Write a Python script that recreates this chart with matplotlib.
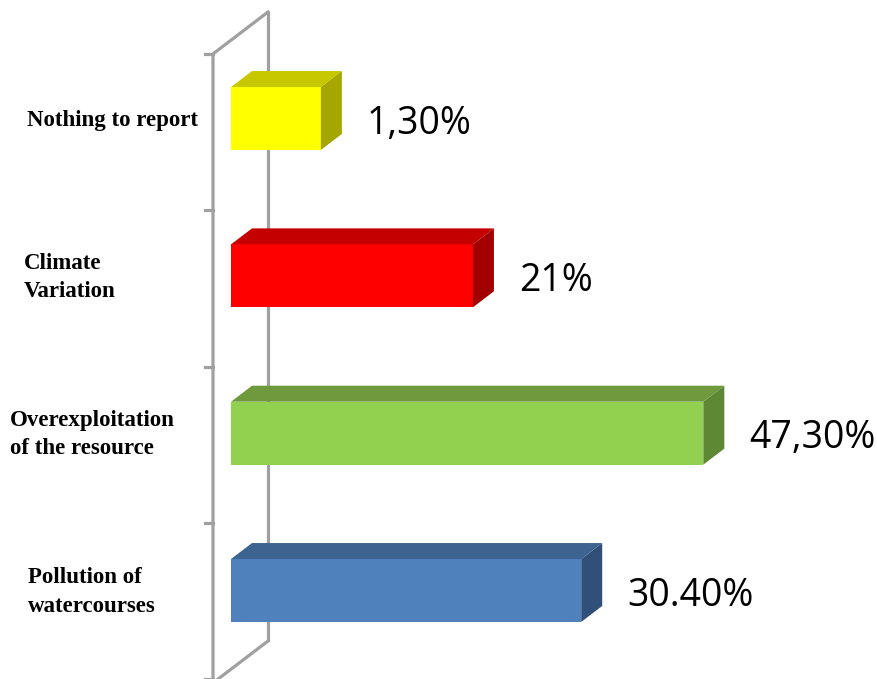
import matplotlib
matplotlib.use("Agg")
import matplotlib.pyplot as plt
from matplotlib.patches import Polygon

# data (bottom to top)
categories = ["Pollution of\nwatercourses", "Overexploitation\nof the resource",
              "Climate\nVariation", "Nothing to report"]
bar_lengths = [30.4, 41.0, 21.0, 7.8]          # drawn bar lengths
value_labels = ["30.40%", "47,30%", "21%", "1,30%"]
front_colors = ["#4F81BD", "#92D050", "#FF0000", "#FFFF00"]
top_colors = ["#3D6490", "#6E9A3D", "#C40000", "#C8C800"]
side_colors = ["#30507A", "#5E8834", "#A20000", "#A6A600"]
label_x = [28, 10, 24, 27]  # pixel x of category text

fig = plt.figure(figsize=(8.78, 6.79), dpi=100)
ax = fig.add_axes([0, 0, 1, 1])
px = 11.52      # pixels per unit on x
py = 157.33     # pixels per category
ax.set_xlim(-231 / px, (878 - 231) / px)
ax.set_ylim(-88.5 / py, 590.5 / py)
ax.axis("off")

dx = 21 / px    # 3d depth
dy = 16 / py
h = 0.2         # half bar height

# wall
wall_c = "#A0A0A0"
xf, xb = -18 / px, 37 / px
y_top, y_bot = 3.677, -0.321
ax.plot([xb, xb], [y_bot, y_top], color=wall_c, lw=2.3, solid_capstyle="butt")
ax.plot([xf, xf, xb], [-0.62, y_top - (dy / dx) * (xb - xf), y_top], color=wall_c, lw=2.3)
ax.plot([xf, xb], [y_bot - (dy / dx) * (xb - xf), y_bot], color=wall_c, lw=2.3)
for k in range(5):
    yt = y_top - (dy / dx) * (xb - xf) - k * 0.9935
    ax.plot([xf - 8 / px, xf], [yt, yt], color=wall_c, lw=2.3)

for i, L in enumerate(bar_lengths):
    y0, y1 = i - h, i + h
    ax.add_patch(Polygon([(0, y0), (L, y0), (L, y1), (0, y1)], closed=True,
                         facecolor=front_colors[i], edgecolor="none", zorder=3))
    ax.add_patch(Polygon([(0, y1), (L, y1), (L + dx, y1 + dy), (dx, y1 + dy)], closed=True,
                         facecolor=top_colors[i], edgecolor="none", zorder=3))
    ax.add_patch(Polygon([(L, y0), (L + dx, y0 + dy), (L + dx, y1 + dy), (L, y1)], closed=True,
                         facecolor=side_colors[i], edgecolor="none", zorder=3))
    ax.text(L + dx + 25 / px, i - 5 / py, value_labels[i], ha="left", va="center",
            fontsize=27, family="Open Sans", color="#000000")
    ax.text((label_x[i] - 231) / px, i - 0.01, categories[i], ha="left", va="center",
            fontsize=16.5, family="Liberation Serif", fontweight="bold",
            linespacing=1.45, color="#000000")

fig.savefig("out.png", dpi=100)
